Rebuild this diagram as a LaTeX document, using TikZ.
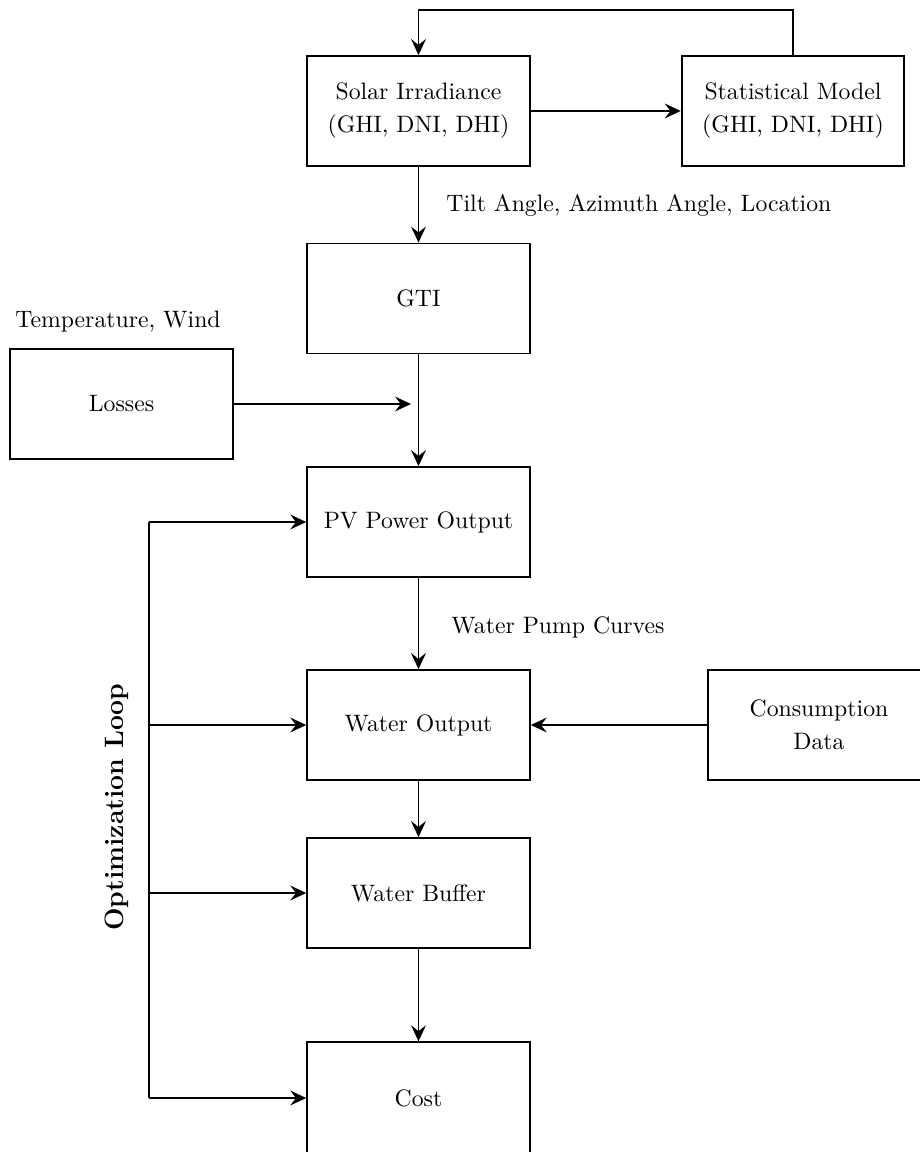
\documentclass[tikz,border=0pt]{standalone}
\usetikzlibrary{arrows.meta}
\begin{document}
\begin{tikzpicture}[x=0.44pt,y=-0.44pt,
  box/.style={draw,line width=0.8pt,minimum width=98pt,minimum height=48.4pt,inner sep=2pt,align=center,font=\fontsize{10.45}{14.5}\selectfont},
  arr/.style={line width=0.8pt,-{Stealth[length=7pt,width=6.5pt,inset=2.5pt]}},
  ln/.style={line width=0.8pt},
  lbl/.style={inner sep=0pt,font=\fontsize{10.45}{14.5}\selectfont}]
\useasboundingbox (0,0) rectangle (920,1152);
\node[box] (solar) at (418.5,111) {Solar Irradiance\\(GHI, DNI, DHI)};
\node[box] (stat) at (793,111) {Statistical Model\\(GHI, DNI, DHI)};
\node[box] (gti) at (418.5,298.5) {GTI};
\node[box] (loss) at (121.5,404) {Losses};
\node[box] (pv) at (418.5,522) {PV Power Output};
\node[box] (wout) at (418.5,725) {Water Output};
\node[box] (cons) at (819,725) {Consumption\\Data};
\node[box] (buf) at (418.5,893) {Water Buffer};
\node[box,minimum height=49.5pt] (cost) at (418.5,1098.5) {Cost};
\node[lbl,anchor=west] (tilt) at (446,205) {Tilt Angle, Azimuth Angle, Location};
\node[lbl] (temp) at (118,322) {Temperature, Wind};
\node[lbl,anchor=west] (pump) at (451,627) {Water Pump Curves};
\node[inner sep=0pt,rotate=90,font=\bfseries\fontsize{11.7}{14}\selectfont] (opt) at (117,807) {Optimization Loop};
\coordinate (top1) at (793,10);
\coordinate (top2) at (418.5,10);
\coordinate (lossend) at (411,404);
\coordinate (l1) at (149,522);
\coordinate (l2) at (149,725);
\coordinate (l3) at (149,893);
\coordinate (l4) at (149,1098);
\draw[arr] (stat.north) -- (top1) -- (top2) -- (solar.north);
\draw[arr] (solar) -- (stat);
\draw[arr] (solar) -- (gti);
\draw[arr] (gti) -- (pv);
\draw[arr] (loss) -- (lossend);
\draw[arr] (pv) -- (wout);
\draw[arr] (cons) -- (wout);
\draw[arr] (wout) -- (buf);
\draw[arr] (buf) -- (cost);
\draw[ln] (l1) -- (l4);
\draw[arr] (l1) -- (pv.west);
\draw[arr] (l2) -- (wout.west);
\draw[arr] (l3) -- (buf.west);
\draw[arr] (l4) -- (l4 -| cost.west);
\end{tikzpicture}
\end{document}
